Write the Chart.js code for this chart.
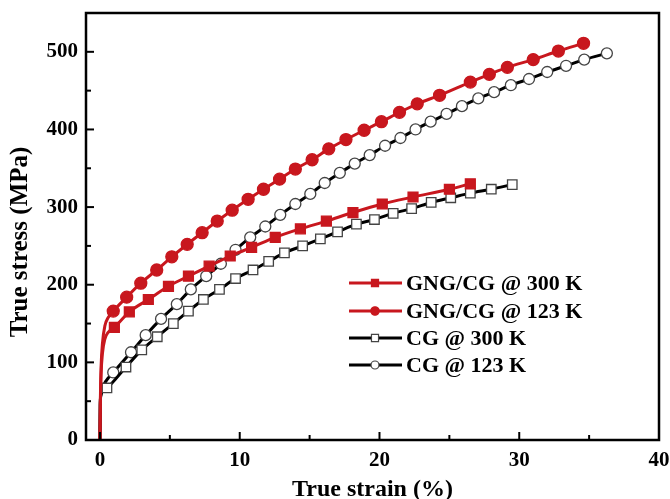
<!DOCTYPE html>
<html>
<head>
<meta charset="utf-8">
<script src="https://cdn.jsdelivr.net/npm/chart.js@4.4.0/dist/chart.umd.min.js"></script>
<style>
  html, body { margin: 0; padding: 0; background: #fff; }
</style>
</head>
<body>
<canvas id="c" width="670" height="499"></canvas>
<script>
// axis ticks
const xTicks = [0, 10, 20, 30, 40];
const xMinor = [5, 15, 25, 35];
const yTicks = [0, 100, 200, 300, 400, 500];
const yMinor = [50, 150, 250, 350, 450];

const labels = ['GNG/CG @ 300 K', 'GNG/CG @ 123 K', 'CG @ 300 K', 'CG @ 123 K'];

// GNG/CG @ 300 K
const gng300LeadX = [0, 0.03, 0.08, 0.18, 0.35, 0.6];
const gng300LeadY = [0, 50, 85, 112, 130, 139];
const gng300X = [1.03, 2.1, 3.46, 4.9, 6.33, 7.81, 9.32, 10.85, 12.54, 14.34, 16.2, 18.1, 20.2, 22.4, 25.0, 26.5];
const gng300Y = [145, 165, 181, 198, 211, 224, 237, 248, 261, 272, 282, 293, 304, 313, 323, 330];

// GNG/CG @ 123 K
const gng123LeadX = [0, 0.03, 0.08, 0.18, 0.35, 0.6];
const gng123LeadY = [0, 55, 95, 125, 147, 158];
const gng123X = [0.95, 1.91, 2.92, 4.06, 5.14, 6.24, 7.31, 8.39, 9.46, 10.6, 11.7, 12.85, 13.98, 15.18, 16.37, 17.6, 18.9, 20.14, 21.43, 22.7, 24.3, 26.5, 27.86, 29.15, 31.0, 32.8, 34.6];
const gng123Y = [166, 184, 202, 219, 236, 252, 267, 282, 296, 310, 323, 336, 349, 361, 375, 387, 399, 410, 422, 433, 444, 461, 471, 480, 490, 501, 511];

// CG @ 300 K
const cg300LeadX = [0, 0.02, 0.06, 0.15, 0.3];
const cg300LeadY = [0, 45, 57, 62, 65];
const cg300X = [0.5, 1.86, 2.99, 4.1, 5.25, 6.33, 7.4, 8.55, 9.7, 10.95, 12.07, 13.2, 14.5, 15.77, 17.0, 18.35, 19.64, 20.98, 22.3, 23.7, 25.1, 26.5, 28.0, 29.5];
const cg300Y = [67, 94, 116, 133, 150, 166, 181, 194, 208, 219, 230, 241, 250, 259, 268, 278, 284, 292, 298, 306, 312, 318, 323, 329];

// CG @ 123 K
const cg123LeadX = [0, 0.02, 0.06, 0.15, 0.3, 0.6];
const cg123LeadY = [0, 45, 58, 65, 72, 80];
const cg123X = [0.95, 2.22, 3.27, 4.37, 5.5, 6.5, 7.6, 8.65, 9.7, 10.75, 11.83, 12.9, 13.98, 15.05, 16.08, 17.16, 18.23, 19.3, 20.4, 21.5, 22.58, 23.66, 24.8, 25.9, 27.07, 28.2, 29.4, 30.7, 32.0, 33.35, 34.65, 36.27];
const cg123Y = [87, 113, 135, 156, 175, 194, 211, 227, 245, 261, 275, 290, 304, 317, 331, 344, 356, 367, 379, 389, 400, 410, 420, 430, 440, 448, 457, 465, 474, 482, 490, 498];

const RED = '#c8171e';
const FONT = '"Liberation Serif", "Times New Roman", serif';

function pts(lx, ly, mx, my) {
  return lx.map((v, i) => ({ x: v, y: ly[i] })).concat(mx.map((v, i) => ({ x: v, y: my[i] })));
}

function makeSet(label, lx, ly, mx, my, color, style, radius, fill, border) {
  const n = lx.length;
  return {
    label: label,
    data: pts(lx, ly, mx, my),
    borderColor: color,
    borderWidth: 3,
    cubicInterpolationMode: 'monotone',
    pointStyle: style,
    pointRadius: ctx => ctx.dataIndex < n ? 0 : radius,
    pointHoverRadius: ctx => ctx.dataIndex < n ? 0 : radius,
    pointBackgroundColor: fill,
    pointBorderColor: border,
    pointBorderWidth: 1.3,
  };
}

const datasets = [
  makeSet(labels[0], gng300LeadX, gng300LeadY, gng300X, gng300Y, RED, 'rect', 7, RED, RED),
  makeSet(labels[1], gng123LeadX, gng123LeadY, gng123X, gng123Y, RED, 'circle', 6, RED, RED),
  makeSet(labels[2], cg300LeadX, cg300LeadY, cg300X, cg300Y, '#000', 'rect', 6.7, '#fff', '#444'),
  makeSet(labels[3], cg123LeadX, cg123LeadY, cg123X, cg123Y, '#000', 'circle', 5.5, '#fff', '#444'),
];

// frame, inward ticks, titles and legend
const decor = {
  id: 'decor',
  afterDatasetsDraw(chart) {
    const { ctx, chartArea: a, scales: { x, y } } = chart;
    ctx.save();
    ctx.strokeStyle = '#000';
    ctx.lineWidth = 2.5;
    ctx.strokeRect(a.left, a.top, a.right - a.left, a.bottom - a.top);
    ctx.lineWidth = 2;
    const seg = (x1, y1, x2, y2) => { ctx.beginPath(); ctx.moveTo(x1, y1); ctx.lineTo(x2, y2); ctx.stroke(); };
    xTicks.forEach(v => { const p = x.getPixelForValue(v); seg(p, a.bottom, p, a.bottom - 8); });
    xMinor.forEach(v => { const p = x.getPixelForValue(v); seg(p, a.bottom, p, a.bottom - 5); });
    yTicks.forEach(v => { const p = y.getPixelForValue(v); seg(a.left, p, a.left + 8, p); });
    yMinor.forEach(v => { const p = y.getPixelForValue(v); seg(a.left, p, a.left + 5, p); });

    // axis titles
    ctx.fillStyle = '#000';
    ctx.font = 'bold 24px ' + FONT;
    ctx.textAlign = 'center';
    ctx.textBaseline = 'alphabetic';
    ctx.fillText('True strain (%)', (a.left + a.right) / 2, 496);
    ctx.translate(27, 242);
    ctx.rotate(-Math.PI / 2);
    ctx.font = 'bold 25px ' + FONT;
    ctx.fillText('True stress (MPa)', 0, 0);
    ctx.restore();

    // legend
    ctx.save();
    const rows = [283, 311, 338, 365];
    const mk = [
      { style: 'rect', r: 5, fill: RED, border: RED },
      { style: 'circle', r: 4.2, fill: RED, border: RED },
      { style: 'rect', r: 5, fill: '#fff', border: '#444' },
      { style: 'circle', r: 4, fill: '#fff', border: '#444' },
    ];
    rows.forEach((ry, i) => {
      const ds = chart.data.datasets[i];
      ctx.strokeStyle = ds.borderColor;
      ctx.lineWidth = 3;
      seg(349, ry, 402, ry);
      ctx.fillStyle = mk[i].fill;
      ctx.strokeStyle = mk[i].border;
      ctx.lineWidth = 1.2;
      Chart.helpers.drawPoint(ctx, { pointStyle: mk[i].style, radius: mk[i].r, borderWidth: 1.2, rotation: 0 }, 375, ry);
      ctx.fillStyle = '#000';
      ctx.font = 'bold 22px ' + FONT;
      ctx.textAlign = 'left';
      ctx.textBaseline = 'middle';
      ctx.fillText(ds.label, 406, ry + 1);
    });
    ctx.restore();
  }
};

new Chart(document.getElementById('c'), {
  type: 'line',
  data: { datasets: datasets },
  options: {
    responsive: false,
    devicePixelRatio: 1,
    animation: false,
    layout: { padding: { top: 13, right: 11, left: 0, bottom: 0 } },
    plugins: { legend: { display: false }, tooltip: { enabled: false } },
    scales: {
      x: {
        type: 'linear',
        min: -1,
        max: 40,
        afterBuildTicks: s => { s.ticks = xTicks.map(v => ({ value: v })); },
        afterFit: s => { s.height = 59; s.paddingLeft = 0; s.paddingRight = 0; },
        grid: { display: false, drawTicks: false, tickLength: 0 },
        border: { display: false },
        ticks: { color: '#000', font: { family: FONT, size: 21, weight: 'bold' }, padding: 8, maxRotation: 0 },
      },
      y: {
        type: 'linear',
        min: 0,
        max: 550,
        afterBuildTicks: s => { s.ticks = yTicks.map(v => ({ value: v })); },
        afterFit: s => { s.width = 86; s.paddingTop = 0; s.paddingBottom = 0; },
        grid: { display: false, drawTicks: false, tickLength: 0 },
        border: { display: false },
        ticks: { color: '#000', font: { family: FONT, size: 21, weight: 'bold' }, padding: 8 },
      },
    },
  },
  plugins: [decor],
});
</script>
</body>
</html>
